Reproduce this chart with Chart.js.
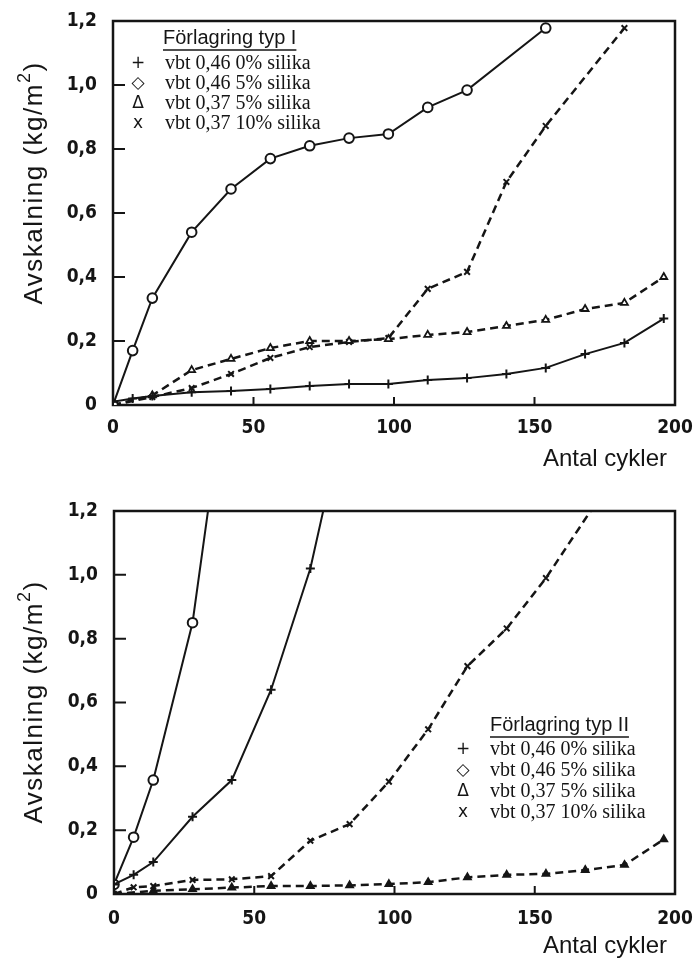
<!DOCTYPE html>
<html>
<head>
<meta charset="utf-8">
<script src="https://cdn.jsdelivr.net/npm/chart.js@4.4.1/dist/chart.umd.min.js"></script>
<style>
  body { margin: 0; background: #fff; }
  .panel { position: absolute; left: 0; width: 695px; height: 480px; }
</style>
</head>
<body>
<div class="panel" style="top:0"><canvas id="chartTypI" width="695" height="480"></canvas></div>
<div class="panel" style="top:480px"><canvas id="chartTypII" width="695" height="480"></canvas></div>
<script>
// Förlagring typ I
const cyclesI_plus = [0, 7, 14, 28, 42, 56, 70, 84, 98, 112, 126, 140, 154, 168, 182, 196];
const valuesI_plus = [0.01, 0.02, 0.028, 0.04, 0.044, 0.05, 0.059, 0.066, 0.066, 0.078, 0.084, 0.097, 0.116, 0.159, 0.194, 0.27];
const cyclesI_diamond = [0, 7, 14, 28, 42, 56, 70, 84, 98, 112, 126, 154];
const valuesI_diamond = [0, 0.17, 0.334, 0.54, 0.675, 0.77, 0.81, 0.834, 0.847, 0.93, 0.984, 1.178];
const cyclesI_tri = [0, 14, 28, 42, 56, 70, 84, 98, 112, 126, 140, 154, 168, 182, 196];
const valuesI_tri = [0, 0.03, 0.109, 0.144, 0.178, 0.2, 0.2, 0.206, 0.219, 0.228, 0.247, 0.266, 0.3, 0.319, 0.4];
const cyclesI_x = [0, 14, 28, 42, 56, 70, 84, 98, 112, 126, 140, 154, 182];
const valuesI_x = [0, 0.025, 0.053, 0.097, 0.147, 0.181, 0.197, 0.209, 0.363, 0.416, 0.697, 0.872, 1.178];

// Förlagring typ II
const cyclesII_plus = [0, 7, 14, 28, 42, 56, 70, 84];
const valuesII_plus = [0.03, 0.06, 0.10, 0.242, 0.357, 0.64, 1.02, 1.57];
const cyclesII_diamond = [0, 7, 14, 28, 42];
const valuesII_diamond = [0.03, 0.178, 0.357, 0.85, 1.74];
const cyclesII_tri = [0, 14, 28, 42, 56, 70, 84, 98, 112, 126, 140, 154, 168, 182, 196];
const valuesII_tri = [0, 0.01, 0.015, 0.02, 0.025, 0.025, 0.027, 0.031, 0.037, 0.052, 0.06, 0.063, 0.075, 0.091, 0.171];
const cyclesII_x = [0, 7, 14, 28, 42, 56, 70, 84, 98, 112, 126, 140, 154, 182];
const valuesII_x = [0, 0.021, 0.025, 0.044, 0.046, 0.056, 0.167, 0.219, 0.352, 0.516, 0.714, 0.832, 0.99, 1.36];

const seriesLabels = ['vbt 0,46 0% silika', 'vbt 0,46 5% silika', 'vbt 0,37 5% silika', 'vbt 0,37 10% silika'];
const legendSymbols = ['+', '\u25C7', '\u0394', 'x'];
const xTicks = [0, 50, 100, 150, 200];
const yTicks = [0, 0.2, 0.4, 0.6, 0.8, 1.0, 1.2];

const INK = '#151515';
const tickFont = "'Liberation Sans Narrow', 'DejaVu Sans Condensed', sans-serif";
const sansFont = '"Liberation Sans", Arial, sans-serif';

function toPoints(cycles, values) {
    return cycles.map((c, i) => ({ x: c, y: values[i] }));
}

// box round the plot area plus the short inward tick marks
const framePlugin = {
    id: 'frame',
    beforeDatasetsDraw(chart) {
        const { ctx, chartArea: a, scales } = chart;
        ctx.save();
        ctx.strokeStyle = INK;
        ctx.lineWidth = 2.5;
        ctx.strokeRect(a.left, a.top, a.right - a.left, a.bottom - a.top);
        ctx.lineWidth = 2;
        ctx.beginPath();
        yTicks.slice(1, -1).forEach(v => {
            const y = scales.y.getPixelForValue(v);
            ctx.moveTo(a.left, y);
            ctx.lineTo(a.left + 12, y);
        });
        xTicks.slice(1, -1).forEach(v => {
            const x = scales.x.getPixelForValue(v);
            ctx.moveTo(x, a.bottom);
            ctx.lineTo(x, a.bottom - 8);
        });
        ctx.stroke();
        ctx.restore();
    }
};

// axis titles and the in-plot legend block
const labelsPlugin = {
    id: 'labels',
    afterDraw(chart, args, opts) {
        const ctx = chart.ctx;
        ctx.save();
        ctx.fillStyle = INK;

        // y title, rotated, with superscript 2
        ctx.translate(opts.yTitleX, opts.yTitleY);
        ctx.rotate(-Math.PI / 2);
        ctx.textBaseline = 'middle';
        ctx.textAlign = 'left';
        ctx.letterSpacing = '1.5px';
        ctx.font = '26px ' + sansFont;
        const main = 'Avskalning (kg/m';
        const w1 = ctx.measureText(main).width;
        const w3 = ctx.measureText(')').width;
        ctx.font = '18px ' + sansFont;
        const w2 = ctx.measureText('2').width;
        const x0 = -(w1 + w2 + w3) / 2;
        ctx.font = '26px ' + sansFont;
        ctx.fillText(main, x0, 0);
        ctx.font = '18px ' + sansFont;
        ctx.fillText('2', x0 + w1, -10);
        ctx.font = '26px ' + sansFont;
        ctx.fillText(')', x0 + w1 + w2, 0);
        ctx.setTransform(1, 0, 0, 1, 0, 0);
        ctx.letterSpacing = '0px';

        // x title
        ctx.textAlign = 'right';
        ctx.font = '24px ' + sansFont;
        ctx.fillText('Antal cykler', opts.xTitleRight, opts.xTitleY);

        // legend
        const lg = opts.legend;
        ctx.textAlign = 'left';
        ctx.font = '20px ' + sansFont;
        ctx.fillText(lg.title, lg.titleX, lg.titleY);
        const tw = ctx.measureText(lg.title).width;
        ctx.lineWidth = 1.5;
        ctx.strokeStyle = INK;
        ctx.beginPath();
        ctx.moveTo(lg.titleX, lg.titleY + 12);
        ctx.lineTo(lg.titleX + tw, lg.titleY + 12);
        ctx.stroke();
        seriesLabels.forEach((label, i) => {
            const y = lg.rowY + i * lg.rowGap;
            ctx.textAlign = 'center';
            ctx.font = '17px "DejaVu Sans", sans-serif';
            ctx.fillText(legendSymbols[i], lg.symbolX, y);
            ctx.textAlign = 'left';
            ctx.font = '20px "Liberation Serif", "Times New Roman", serif';
            ctx.fillText(label, lg.textX, y);
        });
        ctx.restore();
    }
};

function makeDatasets(plus, diamond, tri, cross, filledTri) {
    const base = { borderColor: INK, pointBorderColor: INK, tension: 0, fill: false };
    return [
        Object.assign({}, base, {
            label: seriesLabels[0], data: plus, borderWidth: 2,
            pointStyle: 'cross', pointRadius: 4.5, pointBorderWidth: 2
        }),
        Object.assign({}, base, {
            label: seriesLabels[1], data: diamond, borderWidth: 2,
            pointStyle: 'circle', pointRadius: 4.8, pointBorderWidth: 2, pointBackgroundColor: '#fff'
        }),
        Object.assign({}, base, {
            label: seriesLabels[2], data: tri, borderWidth: 2.5, borderDash: [8, 5],
            pointStyle: 'triangle', pointRadius: 4, pointBorderWidth: 1.8,
            pointBackgroundColor: filledTri ? INK : '#fff'
        }),
        Object.assign({}, base, {
            label: seriesLabels[3], data: cross, borderWidth: 2.5, borderDash: [8, 5],
            pointStyle: 'crossRot', pointRadius: 4, pointBorderWidth: 2
        })
    ];
}

// fixed axis sizes; label overhang padding is dropped so the plot box sits exactly
function fixScale(s, size) {
    if (s.isHorizontal()) s.height = size; else s.width = size;
    s.paddingTop = 0;
    s.paddingBottom = 0;
    s.paddingLeft = 0;
    s.paddingRight = 0;
}

function makeChart(id, datasets, layout, labelOpts) {
    return new Chart(document.getElementById(id), {
        type: 'line',
        data: { datasets: datasets },
        options: {
            responsive: false,
            animation: false,
            layout: { padding: { top: layout.top, right: layout.right, left: 0, bottom: 0 } },
            plugins: {
                legend: { display: false },
                tooltip: { enabled: false },
                labels: labelOpts
            },
            scales: {
                x: {
                    type: 'linear', min: 0, max: 200,
                    afterFit: s => fixScale(s, layout.xHeight),
                    afterBuildTicks: s => { s.ticks = xTicks.map(v => ({ value: v })); },
                    grid: { display: false, drawTicks: false },
                    border: { display: false },
                    ticks: {
                        color: INK, padding: layout.xPad, maxRotation: 0,
                        font: { family: tickFont, size: 19, weight: 'bold' }
                    }
                },
                y: {
                    min: 0, max: 1.2,
                    afterFit: s => fixScale(s, layout.yWidth),
                    afterBuildTicks: s => { s.ticks = yTicks.map(v => ({ value: v })); },
                    grid: { display: false, drawTicks: false },
                    border: { display: false },
                    ticks: {
                        color: INK, padding: 16,
                        font: { family: tickFont, size: 19, weight: 'bold' },
                        callback: v => v === 0 ? '0' : v.toFixed(1).replace('.', ',')
                    }
                }
            }
        },
        plugins: [framePlugin, labelsPlugin]
    });
}

makeChart('chartTypI',
    makeDatasets(
        toPoints(cyclesI_plus, valuesI_plus),
        toPoints(cyclesI_diamond, valuesI_diamond),
        toPoints(cyclesI_tri, valuesI_tri),
        toPoints(cyclesI_x, valuesI_x),
        false),
    { top: 21, right: 20, xHeight: 75, yWidth: 113, xPad: 12 },
    {
        yTitleX: 35, yTitleY: 183, xTitleRight: 667, xTitleY: 459,
        legend: { title: 'Förlagring typ I', titleX: 163, titleY: 38, symbolX: 138, textX: 165, rowY: 64, rowGap: 20 }
    });

makeChart('chartTypII',
    makeDatasets(
        toPoints(cyclesII_plus, valuesII_plus),
        toPoints(cyclesII_diamond, valuesII_diamond),
        toPoints(cyclesII_tri, valuesII_tri),
        toPoints(cyclesII_x, valuesII_x),
        true),
    { top: 31, right: 20, xHeight: 66, yWidth: 114, xPad: 14 },
    {
        yTitleX: 35, yTitleY: 222, xTitleRight: 667, xTitleY: 466,
        legend: { title: 'Förlagring typ II', titleX: 490, titleY: 245, symbolX: 463, textX: 490, rowY: 270, rowGap: 21 }
    });
</script>
</body>
</html>
